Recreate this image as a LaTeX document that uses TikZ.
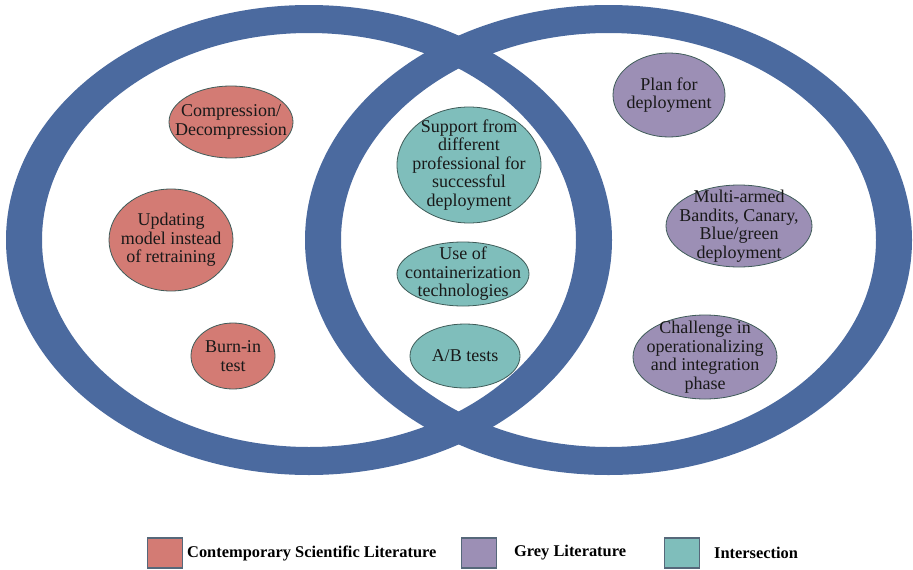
\documentclass[tikz,border=0pt]{standalone}
\usepackage{fontspec}
\setmainfont{Liberation Serif}
\usetikzlibrary{shapes.geometric}

\definecolor{ringblue}{HTML}{4B6A9F}
\definecolor{cslred}{HTML}{D37B74}
\definecolor{greypurple}{HTML}{9C8FB5}
\definecolor{interteal}{HTML}{7FBEBB}
\definecolor{bubbleline}{HTML}{3F5C59}
\definecolor{keyline}{HTML}{56687A}

\tikzset{
  bubble/.style={ellipse, draw=bubbleline, line width=0.8pt, inner sep=0pt},
  bsize/.style 2 args={minimum width=#1, minimum height=#2},
  cslbub/.style={bubble, fill=cslred},
  greybub/.style={bubble, fill=greypurple},
  interbub/.style={bubble, fill=interteal},
  btext/.style={align=center, inner sep=0pt, text=black!90,
    font=\fontsize{18}{18.5}\selectfont},
  keybox/.style={draw=keyline, line width=1.2pt, minimum width=35pt,
    minimum height=30pt, inner sep=0pt},
  keytext/.style={anchor=west, inner sep=0pt,
    font=\fontsize{16.4}{18}\selectfont\bfseries},
  ring/.style={fill=ringblue, even odd rule}
}

\begin{document}
\begin{tikzpicture}[x=1pt, y=-1pt]
\useasboundingbox (0,0) rectangle (913,570);
\fill[white] (0,0) rectangle (913,570);

% the two overlapping rings
\fill[ring] (309,240) ellipse [x radius=303pt, y radius=235pt]
            (309,240) ellipse [x radius=267pt, y radius=207pt];
\fill[ring] (608.5,240) ellipse [x radius=303.5pt, y radius=235pt]
            (608.5,240) ellipse [x radius=267.5pt, y radius=207pt];

% contemporary scientific literature
\node[cslbub, bsize={124pt}{72pt}] (comp) at (231,122) {};
\node[btext] (comp-t) at (comp) {Compression/\\Decompression};
\node[cslbub, bsize={124pt}{102pt}] (upd) at (171,240) {};
\node[btext] (upd-t) at (upd) {Updating\\model instead\\of retraining};
\node[cslbub, bsize={84pt}{66pt}] (burn) at (233,356) {};
\node[btext] (burn-t) at (burn) {Burn-in\\test};

% intersection
\node[interbub, bsize={144pt}{116pt}] (supp) at (469,165) {};
\node[btext] (supp-t) at (supp) {Support from\\different\\professional for\\successful\\deployment};
\node[interbub, bsize={132pt}{64pt}] (cont) at (463,274) {};
\node[btext] (cont-t) at (cont) {Use of\\containerization\\technologies};
\node[interbub, bsize={110pt}{64pt}] (abt) at (465,356) {};
\node[btext] (abt-t) at (abt) {A/B tests};

% grey literature
\node[greybub, bsize={112pt}{84pt}] (plan) at (669,95) {};
\node[btext] (plan-t) at (plan) {Plan for\\deployment};
\node[greybub, bsize={146pt}{82pt}] (multi) at (739,226) {};
\node[btext] (multi-t) at (multi) {Multi-armed\\Bandits, Canary,\\Blue/green\\deployment};
\node[greybub, bsize={144pt}{84pt}] (chal) at (705,357) {};
\node[btext] (chal-t) at (chal) {Challenge in\\operationalizing\\and integration\\phase};

% key
\node[keybox, fill=cslred] (k1) at (165,553) {};
\node[keytext] (k1-t) at (187,553) {Contemporary Scientific Literature};
\node[keybox, fill=greypurple] (k2) at (479,553) {};
\node[keytext] (k2-t) at (514,553) {Grey Literature};
\node[keybox, fill=interteal] (k3) at (682,553) {};
\node[keytext] (k3-t) at (714,553) {Intersection};
\end{tikzpicture}
\end{document}
